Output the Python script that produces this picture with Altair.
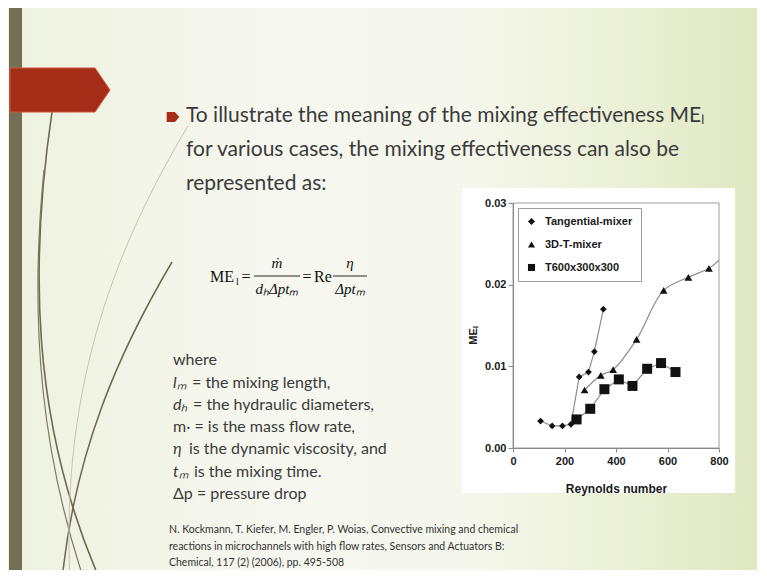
import altair as alt
import pandas as pd

# ---------------- data ----------------
series_names = ["Tangential-mixer", "3D-T-mixer", "T600x300x300"]
series_shapes = ["diamond", "triangle-up", "square"]

tan_re = [107, 152, 192, 225, 257, 293, 316, 351]
tan_me = [0.0033, 0.0027, 0.0027, 0.0029, 0.0087, 0.0093, 0.0118, 0.0170]

t3d_re = [278, 341, 389, 480, 585, 681, 761]
t3d_me = [0.0071, 0.0089, 0.0096, 0.0133, 0.0193, 0.0209, 0.0220]
t3d_tail_re = [800]          # line continues to the frame without a marker
t3d_tail_me = [0.0230]

sq_re = [247, 300, 355, 411, 464, 521, 575, 631]
sq_me = [0.0035, 0.0048, 0.0072, 0.0084, 0.0076, 0.0097, 0.0104, 0.0093]

x_ticks = [0, 200, 400, 600, 800]
y_ticks = [0.00, 0.01, 0.02, 0.03]

title_lines = [
    "To illustrate the meaning of the mixing effectiveness MEₗ",
    "for various cases, the mixing effectiveness can also be",
    "represented as:",
]
where_sym = ["", "lₘ", "dₕ", "", "η", "tₘ", ""]
where_rest = [
    "where",
    "= the mixing length,",
    "= the hydraulic diameters,",
    "m· = is the mass flow rate,",
    "is the dynamic viscosity, and",
    "is the mixing time.",
    "Δp = pressure drop",
]
ref_lines = [
    "N. Kockmann, T. Kiefer, M. Engler, P. Woias, Convective mixing and chemical",
    "reactions in microchannels with high flow rates, Sensors and Actuators B:",
    "Chemical, 117 (2) (2006), pp. 495-508",
]

# ---------------- tables ----------------
rows = []
for n, xs_, ys_ in [(series_names[0], tan_re, tan_me),
                    (series_names[1], t3d_re, t3d_me),
                    (series_names[2], sq_re, sq_me)]:
    for a, b in zip(xs_, ys_):
        rows.append({"series": n, "re": a, "me": b})
pts = pd.DataFrame(rows)
lin_tan = pts[pts.series == series_names[0]]
lin_sq = pts[pts.series == series_names[2]]
lin_3d = pd.concat([pts[pts.series == series_names[1]],
                    pd.DataFrame({"series": series_names[1], "re": t3d_tail_re, "me": t3d_tail_me})])

W, H = 206, 245
one = alt.Data(values=[{"k": 0}])
SANS = "Lato"
TXT = "#3b3b3b"


def text(s, x, y, size, font=SANS, color=TXT, align="left", **kw):
    return alt.Chart(one).mark_text(text=s, align=align, baseline="alphabetic",
                                    fontSize=size, font=font, color=color, **kw
                                    ).encode(x=alt.value(x), y=alt.value(y))


layers = []

# slide background
grad = alt.Gradient(gradient="linear", x1=0, x2=1, y1=0, y2=0, stops=[
    alt.GradientStop(offset=0.0, color="#eef2df"),
    alt.GradientStop(offset=0.35, color="#f6f7f0"),
    alt.GradientStop(offset=0.62, color="#f5f7ec"),
    alt.GradientStop(offset=0.85, color="#e9efd3"),
    alt.GradientStop(offset=1.0, color="#dfe8c2"),
])
layers.append(alt.Chart(one).mark_rect(fill=grad).encode(
    x=alt.value(-505), x2=alt.value(W + 38), y=alt.value(-195), y2=alt.value(H + 122)))

# decorative curves (page coords, drawn from page origin)
for path, col, sw in [
    ("M52,112 C30,260 30,420 100,580", "#6d6850", 1.6),
    ("M44,170 C28,330 44,460 84,580", "#7d7862", 1.2),
    ("M172,262 C120,350 75,450 62,580", "#6d6850", 1.5),
    ("M188,126 C120,240 60,380 70,580", "#c4c6b4", 1.0),
]:
    layers.append(alt.Chart(one).mark_point(shape=path, size=4, filled=False,
                                            stroke=col, strokeWidth=sw, opacity=1).encode(
        x=alt.value(-513), y=alt.value(-203)))

# left dark bar
layers.append(alt.Chart(one).mark_rect(fill="#766f58").encode(
    x=alt.value(-504), x2=alt.value(-491), y=alt.value(-195), y2=alt.value(H + 122)))
# red banner
layers.append(alt.Chart(one).mark_point(
    shape="M-1,-0.44L0.7,-0.44L1,0L0.7,0.44L-1,0.44Z", size=10000, filled=True,
    fill="#a62d18", stroke="#c9573a", strokeWidth=1, opacity=1).encode(
    x=alt.value(60 - 513), y=alt.value(90 - 203)))
# bullet
layers.append(alt.Chart(one).mark_point(
    shape="M-1,-0.8L0.3,-0.8L1,0L0.3,0.8L-1,0.8Z", size=160, filled=True,
    fill="#a62d18", opacity=1).encode(x=alt.value(173 - 513), y=alt.value(117 - 203)))

# title
for i, s in enumerate(title_lines):
    layers.append(text(s, 186 - 513, 122 + 34 * i - 203, 21))

# formula
SERIF = "Liberation Serif"
FC = "#111111"
layers.append(text("ME", 210 - 513, 282 - 203, 16, font=SERIF, color=FC))
layers.append(text("l", 236 - 513, 285 - 203, 10, font=SERIF, color=FC))
layers.append(text("=", 246 - 513, 282 - 203, 16, font=SERIF, color=FC, align="center"))
layers.append(alt.Chart(one).mark_rule(color=FC, strokeWidth=0.9).encode(
    x=alt.value(254 - 513), x2=alt.value(300 - 513), y=alt.value(276 - 203)))
layers.append(text("ṁ", 277 - 513, 268 - 203, 15, font=SERIF, color=FC, align="center", fontStyle="italic"))
layers.append(text("dₕΔptₘ", 277 - 513, 294 - 203, 15, font=SERIF, color=FC, align="center", fontStyle="italic"))
layers.append(text("=", 307 - 513, 282 - 203, 16, font=SERIF, color=FC, align="center"))
layers.append(text("Re", 314 - 513, 282 - 203, 16, font=SERIF, color=FC))
layers.append(alt.Chart(one).mark_rule(color=FC, strokeWidth=0.9).encode(
    x=alt.value(333 - 513), x2=alt.value(367 - 513), y=alt.value(276 - 203)))
layers.append(text("η", 350 - 513, 268 - 203, 15, font=SERIF, color=FC, align="center", fontStyle="italic"))
layers.append(text("Δptₘ", 350 - 513, 294 - 203, 15, font=SERIF, color=FC, align="center", fontStyle="italic"))

# where list
where_base = [365, 388, 410, 432, 454, 477, 499]
rest_x = [173, 192, 193, 173, 189, 194, 173]
for sym, rest, yb, rx in zip(where_sym, where_rest, where_base, rest_x):
    if sym:
        layers.append(text(sym, 173 - 513, yb - 203, 16, fontStyle="italic"))
    layers.append(text(rest, rx - 513, yb - 203, 16))

# reference
for i, s in enumerate(ref_lines):
    layers.append(text(s, 169 - 513, 533 + 16.5 * i - 203, 10.5, color="#333333"))

# white chart panel
layers.append(alt.Chart(one).mark_rect(fill="white").encode(
    x=alt.value(-51), x2=alt.value(222), y=alt.value(-15), y2=alt.value(290)))
# plot frame
layers.append(alt.Chart(one).mark_rect(filled=False, stroke="#9c9c9c", strokeWidth=1).encode(
    x=alt.value(0), x2=alt.value(W), y=alt.value(0), y2=alt.value(H)))

# ---------------- the data chart ----------------
AX = "Liberation Sans"
xs = alt.Scale(domain=[0, 800], nice=False, zero=False)
ys = alt.Scale(domain=[0, 0.03], nice=False)
x_enc = alt.X("re:Q", scale=xs, axis=alt.Axis(
    values=x_ticks, title="Reynolds number", grid=False, labelFlush=False,
    labelFont=AX, labelFontWeight="bold", labelFontSize=11, labelColor="#1a1a1a",
    tickColor="#8a8a8a", domainColor="#8a8a8a", tickSize=4, labelPadding=3,
    titleFont=AX, titleFontWeight="bold", titleFontSize=12, titleColor="#1a1a1a",
    titleY=40, titleBaseline="middle", zindex=1))
y_enc = alt.Y("me:Q", scale=ys, axis=alt.Axis(
    values=y_ticks, format=".2f", title="MEₗ", grid=False, labelFlush=False,
    labelFont=AX, labelFontWeight="bold", labelFontSize=11, labelColor="#1a1a1a",
    tickColor="#8a8a8a", domainColor="#8a8a8a", tickSize=5, labelPadding=2,
    titleFont=AX, titleFontWeight="bold", titleFontSize=11, titleColor="#1a1a1a",
    titleX=-40, titleY=132, titleAngle=270, titleAlign="center", titleBaseline="middle", zindex=1))

LC = "#8c8c8c"
layers.append(alt.Chart(lin_tan).mark_line(color=LC, strokeWidth=1.2).encode(
    x=x_enc, y=y_enc, order="re:Q"))
layers.append(alt.Chart(lin_sq).mark_line(color=LC, strokeWidth=1.2).encode(
    x=x_enc, y=y_enc, order="re:Q"))
layers.append(alt.Chart(lin_3d).mark_line(color=LC, strokeWidth=1.2, interpolate="catmull-rom", clip=True).encode(
    x=x_enc, y=y_enc, order="re:Q"))

legend = alt.Legend(title=None, orient="top-left", offset=5,
                    fillColor="white", strokeColor="#9c9c9c", padding=8,
                    labelFont=AX, labelFontWeight="bold", labelFontSize=11,
                    labelColor="#1a1a1a", symbolFillColor="#111111",
                    symbolStrokeColor="#111111", symbolSize=50, symbolStrokeWidth=0,
                    rowPadding=11, labelOffset=8, zindex=2)
shape_enc = alt.Shape("series:N", scale=alt.Scale(domain=series_names, range=series_shapes),
                      legend=legend)
for name, sz in zip(series_names, [45, 60, 100]):
    layers.append(alt.Chart(pts[pts.series == name]).mark_point(
        filled=True, color="#111111", opacity=1, size=sz).encode(
        x=x_enc, y=y_enc, shape=shape_enc))

chart = alt.layer(*layers).properties(
    width=W, height=H,
    padding={"left": 505, "top": 195, "right": 38, "bottom": 122},
    autosize=alt.AutoSizeParams(type="none"),
    background="white",
).configure_view(stroke="transparent")

chart.save("out.html", embed_options={"renderer": "svg", "actions": False})
